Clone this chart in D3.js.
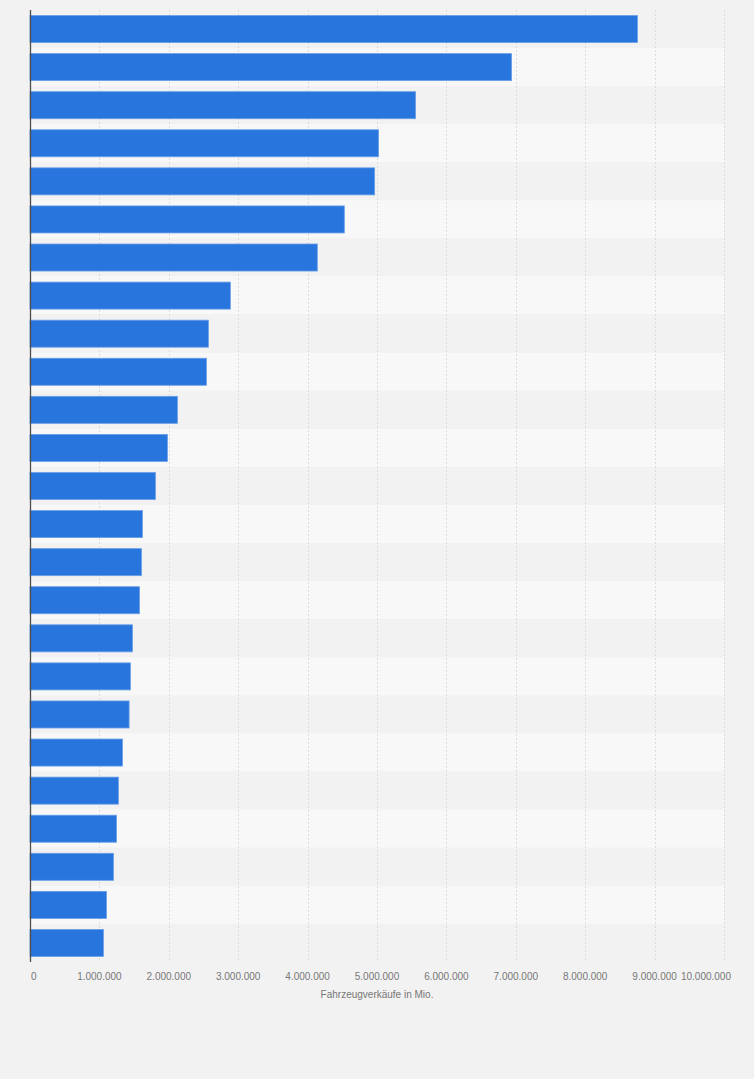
<!DOCTYPE html>
<html>
<head>
<meta charset="utf-8">
<script src="https://cdn.jsdelivr.net/npm/d3@7"></script>
<style>
  body { margin: 0; background: #f2f2f2; }
  #chart svg { display: block; font-family: "Liberation Sans", Arial, sans-serif; }
</style>
</head>
<body>
<div id="chart"></div>
<script>
// data (no category labels shown in the picture, so ranks are used)
const categories = d3.range(1, 26).map(d => "Rang " + d);
const sales = [
    8753000, 6939000, 5556000, 5023000, 4966000, 4529000, 4140000,
    2887000, 2570000, 2542000, 2124000, 1980000, 1807000, 1620000,
    1606000, 1577000, 1476000, 1447000, 1428000, 1332000, 1274000,
    1246000, 1203000, 1102000, 1058000
];
const xTicks = [0, 1000000, 2000000, 3000000, 4000000, 5000000,
    6000000, 7000000, 8000000, 9000000, 10000000];
const axisTitle = "Fahrzeugverkäufe in Mio.";

// set dimensions
const width = 754,
    height = 1079,
    margin = {
        top: 10,
        right: 30,
        bottom: 117,
        left: 30
    };

const svg = d3.select("#chart")
    .append("svg")
    .attr("width", width)
    .attr("height", height);

svg.append("rect")
    .attr("width", width)
    .attr("height", height)
    .attr("fill", "#f2f2f2");

// scales
const xScale = d3.scaleLinear()
    .domain([0, 10000000])
    .range([margin.left, width - margin.right]);

const yScale = d3.scaleBand()
    .domain(categories)
    .range([margin.top, height - margin.bottom])
    .paddingInner(0.29)
    .paddingOuter(0.145);

const step = yScale.step();

// alternating row bands
svg.append("g")
    .selectAll("rect")
    .data(categories)
    .enter()
    .append("rect")
    .attr("x", margin.left)
    .attr("y", (d, i) => margin.top + i * step)
    .attr("width", xScale(10000000) - margin.left)
    .attr("height", step)
    .attr("fill", (d, i) => i % 2 ? "#f8f8f8" : "#f2f2f2");

// gridlines
svg.append("g")
    .selectAll("line")
    .data(xTicks.slice(1))
    .enter()
    .append("line")
    .attr("x1", d => Math.round(xScale(d)) + 0.5)
    .attr("x2", d => Math.round(xScale(d)) + 0.5)
    .attr("y1", margin.top)
    .attr("y2", height - margin.bottom)
    .attr("stroke", "#dcdcdc")
    .attr("stroke-dasharray", "2,2");

// bars
svg.append("g")
    .selectAll("rect")
    .data(sales)
    .enter()
    .append("rect")
    .attr("x", xScale(0))
    .attr("y", (d, i) => yScale(categories[i]))
    .attr("width", d => xScale(d) - xScale(0))
    .attr("height", yScale.bandwidth())
    .attr("fill", "#2876dd")
    .attr("stroke", "#6b9fe6")
    .attr("stroke-width", 0.8);

// y axis line
svg.append("line")
    .attr("x1", margin.left + 0.5)
    .attr("x2", margin.left + 0.5)
    .attr("y1", margin.top)
    .attr("y2", height - margin.bottom)
    .attr("stroke", "#4d4d4d")
    .attr("stroke-width", 1.3);

// x tick labels (ends are pulled inside like the original)
const fmt = d3.formatLocale({ decimal: ",", thousands: ".", grouping: [3] }).format(",d");
svg.append("g")
    .selectAll("text")
    .data(xTicks)
    .enter()
    .append("text")
    .attr("x", (d, i) => i === 0 ? xScale(d) + 1 : i === xTicks.length - 1 ? xScale(d) + 7 : xScale(d))
    .attr("y", 980)
    .attr("text-anchor", (d, i) => i === 0 ? "start" : i === xTicks.length - 1 ? "end" : "middle")
    .attr("font-size", "10px")
    .attr("fill", "#777")
    .text(d => fmt(d));

// axis title
svg.append("text")
    .attr("x", (xScale(0) + xScale(10000000)) / 2)
    .attr("y", 998)
    .attr("text-anchor", "middle")
    .attr("font-size", "10px")
    .attr("fill", "#777")
    .text(axisTitle);
</script>
</body>
</html>
